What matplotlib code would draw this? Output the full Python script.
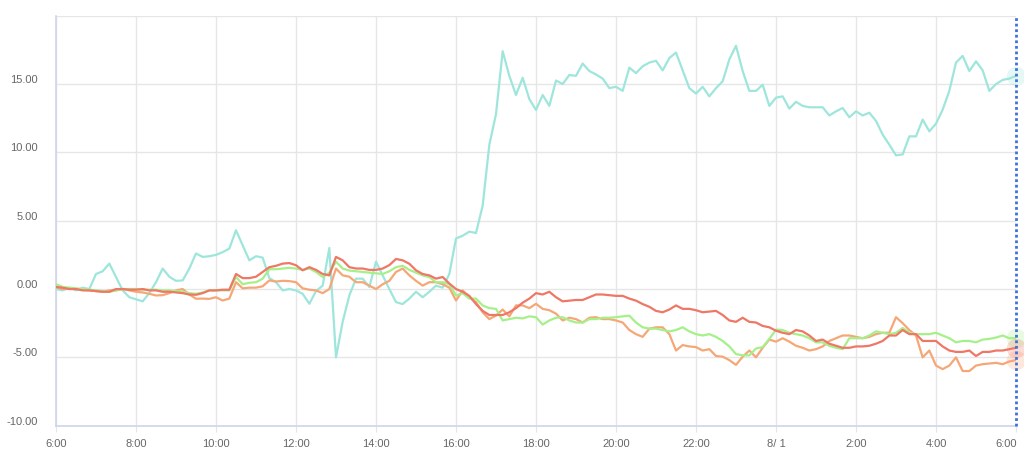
import numpy as np
import matplotlib
matplotlib.use("Agg")
import matplotlib.pyplot as plt
from matplotlib.transforms import ScaledTranslation

# ---- data: 10-minute samples from 6:00 to 6:00 next day ----
x_tick_labels = ["6:00", "8:00", "10:00", "12:00", "14:00", "16:00", "18:00",
                 "20:00", "22:00", "8/ 1", "2:00", "4:00", "6:00"]
y_ticks = [-10, -5, 0, 5, 10, 15, 20]
y_tick_labels = ["-10.00", "-5.00", "0.00", "5.00", "10.00", "15.00", ""]

cyan = [
    0.0, -0.1, 0.1, -0.1, 0.1, 0.0,
    1.1, 1.3, 1.86, 0.88, -0.1, -0.6,
    -0.75, -0.9, -0.3, 0.5, 1.5, 0.9,
    0.6, 0.63, 1.5, 2.6, 2.35, 2.4,
    2.5, 2.7, 2.96, 4.3, 3.2, 2.1,
    2.4, 2.3, 0.8, 0.5, -0.1, 0.0,
    -0.1, -0.35, -1.08, -0.15, 0.25, 3.0,
    -5.0, -2.4, -0.47, 0.76, 0.76, 0.15,
    2.0, 1.0, 0.0, -0.96, -1.1, -0.7,
    -0.2, -0.6, -0.2, 0.25, 0.1, 1.1,
    3.7, 3.9, 4.2, 4.1, 6.1, 10.56,
    12.8, 17.4, 15.6, 14.2, 15.46, 13.9,
    13.1, 14.2, 13.4, 15.26, 15.0, 15.66,
    15.6, 16.5, 15.95, 15.7, 15.4, 14.7,
    14.8, 14.5, 16.2, 15.8, 16.3, 16.57,
    16.7, 16.0, 16.9, 17.3, 16.0, 14.7,
    14.3, 14.8, 14.1, 14.7, 15.2, 16.8,
    17.8, 15.95, 14.5, 14.5, 14.95, 13.4,
    14.0, 14.1, 13.2, 13.7, 13.4, 13.3,
    13.3, 13.3, 12.7, 13.0, 13.25, 12.57,
    13.0, 12.7, 12.9, 12.3, 11.3, 10.56,
    9.78, 9.85, 11.17, 11.17, 12.4, 11.54,
    12.1, 13.13, 14.5, 16.57, 17.06, 15.95,
    16.66, 16.0, 14.5, 15.0, 15.3, 15.4,
    15.6,
]

red = [
    0.15, 0.1, 0.0, 0.0, -0.1, -0.1,
    -0.15, -0.2, -0.2, 0.0, 0.0, -0.05,
    -0.05, 0.0, -0.1, -0.1, -0.2, -0.2,
    -0.25, -0.3, -0.4, -0.42, -0.3, -0.1,
    -0.1, -0.05, -0.05, 1.1, 0.8, 0.8,
    0.9, 1.25, 1.6, 1.7, 1.86, 1.9,
    1.74, 1.37, 1.6, 1.4, 1.1, 1.0,
    2.35, 2.1, 1.6, 1.5, 1.5, 1.4,
    1.4, 1.5, 1.75, 2.2, 2.1, 1.85,
    1.37, 1.1, 1.0, 0.76, 0.88, 0.4,
    0.0, -0.2, -0.5, -1.1, -1.6, -1.9,
    -1.9, -1.9, -1.7, -1.4, -1.0, -0.7,
    -0.3, -0.4, -0.2, -0.6, -0.9, -0.85,
    -0.8, -0.8, -0.6, -0.4, -0.4, -0.45,
    -0.5, -0.5, -0.7, -0.85, -1.1, -1.3,
    -1.6, -1.7, -1.5, -1.2, -1.45, -1.45,
    -1.55, -1.7, -1.65, -1.6, -1.9, -2.3,
    -2.4, -2.1, -2.4, -2.45, -2.7, -2.8,
    -3.05, -3.2, -3.3, -3.0, -3.1, -3.4,
    -3.8, -3.7, -4.0, -4.15, -4.3, -4.3,
    -4.2, -4.2, -4.15, -4.0, -3.8, -3.4,
    -3.4, -3.0, -3.3, -3.3, -3.8, -3.8,
    -3.8, -4.2, -4.5, -4.6, -4.6, -4.5,
    -4.9, -4.6, -4.6, -4.5, -4.5, -4.4,
    -4.3,
]

orange = [
    0.15, 0.0, 0.05, 0.0, -0.05, -0.1,
    -0.15, -0.2, -0.1, -0.1, 0.0, -0.1,
    -0.2, -0.25, -0.35, -0.47, -0.45, -0.3,
    -0.1, 0.0, -0.4, -0.71, -0.7, -0.72,
    -0.6, -0.84, -0.7, 0.5, 0.05, 0.1,
    0.1, 0.2, 0.63, 0.55, 0.6, 0.58,
    0.5, 0.05, -0.05, -0.1, -0.3, 0.0,
    1.5, 1.0, 0.9, 0.5, 0.5, 0.25,
    0.0, 0.35, 0.6, 1.25, 1.5, 1.0,
    0.6, 0.25, 0.5, 0.5, 0.35, 0.1,
    -0.84, -0.1, -0.6, -0.96, -1.7, -2.2,
    -1.94, -1.5, -2.0, -1.2, -1.2, -1.4,
    -1.08, -1.45, -1.55, -1.8, -2.3, -2.1,
    -2.2, -2.45, -2.1, -2.06, -2.2, -2.2,
    -2.3, -2.45, -3.0, -3.3, -3.5, -2.9,
    -2.8, -2.8, -3.3, -4.5, -4.1, -4.2,
    -4.25, -4.5, -4.4, -4.9, -4.95, -5.2,
    -5.55, -4.95, -4.5, -5.0, -4.3, -3.7,
    -3.85, -3.6, -3.85, -4.15, -4.3, -4.5,
    -4.4, -4.2, -3.8, -3.6, -3.4, -3.4,
    -3.5, -3.6, -3.5, -3.3, -3.2, -3.2,
    -2.06, -2.5, -3.0, -3.4, -5.0, -4.5,
    -5.6, -5.86, -5.6, -5.0, -6.0, -6.0,
    -5.6, -5.5, -5.45, -5.4, -5.5, -5.3,
    -5.2,
]

green = [
    0.35, 0.15, 0.1, 0.05, 0.0, -0.05,
    -0.1, -0.15, -0.2, -0.1, 0.0, 0.0,
    0.0, -0.05, -0.05, -0.05, -0.1, -0.1,
    -0.15, -0.2, -0.3, -0.35, -0.25, -0.1,
    -0.1, -0.1, -0.1, 0.88, 0.35, 0.46,
    0.5, 0.76, 1.45, 1.45, 1.5, 1.55,
    1.5, 1.4, 1.5, 1.25, 0.88, 1.2,
    2.0, 1.5, 1.35, 1.3, 1.25, 1.2,
    1.15, 1.1, 1.3, 1.6, 1.7, 1.4,
    1.2, 1.0, 0.88, 0.5, 0.5, 0.35,
    -0.47, -0.3, -0.7, -0.7, -1.2, -1.4,
    -1.45, -2.3, -2.2, -2.1, -2.15, -2.0,
    -2.06, -2.6, -2.3, -2.1, -2.06, -2.3,
    -2.45, -2.45, -2.2, -2.2, -2.1, -2.1,
    -2.06, -2.0, -1.95, -2.45, -2.8, -2.9,
    -2.9, -3.0, -3.1, -3.0, -2.8, -3.1,
    -3.3, -3.4, -3.3, -3.5, -3.8, -4.2,
    -4.76, -4.85, -4.85, -4.35, -4.25, -3.65,
    -2.97, -3.0, -3.2, -3.3, -3.4, -3.6,
    -3.9, -3.9, -4.15, -4.3, -4.4, -3.6,
    -3.6, -3.6, -3.4, -3.1, -3.2, -3.3,
    -3.2, -2.85, -3.2, -3.3, -3.3, -3.3,
    -3.2, -3.4, -3.6, -3.9, -3.8, -3.8,
    -3.9, -3.7, -3.65, -3.55, -3.4, -3.6,
    -3.6,
]

series = [
    (cyan, "#9ee6dc"),
    (orange, "#f6a777"),
    (green, "#a6f08a"),
    (red, "#ef7766"),
]

plt.rcParams["font.family"] = ["Liberation Sans", "DejaVu Sans"]

fig = plt.figure(figsize=(10.24, 4.6), dpi=100)
ax = fig.add_axes([56 / 1024, 1 - 426.7 / 460, 960 / 1024, 410 / 460])

for vals, col in series:
    t = np.arange(len(vals)) / 6.0
    ax.plot(t, vals, color=col, lw=1.6, solid_joinstyle="round", zorder=3)
    ax.plot(t[-1], vals[-1], "o", ms=14, color=col, alpha=0.25, mec="none",
            zorder=4, clip_on=False)

ax.set_xlim(0, 24)
ax.set_ylim(-10, 20)
ax.set_xticks(np.arange(0, 25, 2))
ax.set_xticklabels(x_tick_labels)
ax.set_yticks(y_ticks)
ax.set_yticklabels(y_tick_labels)

ax.grid(True, color="#e6e6e6", lw=1, zorder=0)
ax.set_axisbelow(True)
for s in ["top", "right"]:
    ax.spines[s].set_visible(False)
for s in ["left", "bottom"]:
    ax.spines[s].set_color("#ccd6eb")
    ax.spines[s].set_linewidth(1.2)

ax.tick_params(axis="x", length=4, color="#e6e6e6", labelsize=8,
               labelcolor="#666666", pad=5)
ax.tick_params(axis="y", length=0, labelsize=8, labelcolor="#666666", pad=13)

# y labels sit slightly above their grid lines
off = ScaledTranslation(0, 6 / 100, fig.dpi_scale_trans)
for lab in ax.get_yticklabels():
    lab.set_transform(lab.get_transform() + off)
xl = ax.get_xticklabels()
xl[-1].set_horizontalalignment("right")
xl[-1].set_transform(xl[-1].get_transform() + ScaledTranslation(1 / 100, 0, fig.dpi_scale_trans))

# crosshair at the last point
ax.axvline(24, color="#3f72d8", lw=2, ls=(0, (1, 1)), zorder=5, clip_on=False)

fig.savefig("out.png", dpi=100)
